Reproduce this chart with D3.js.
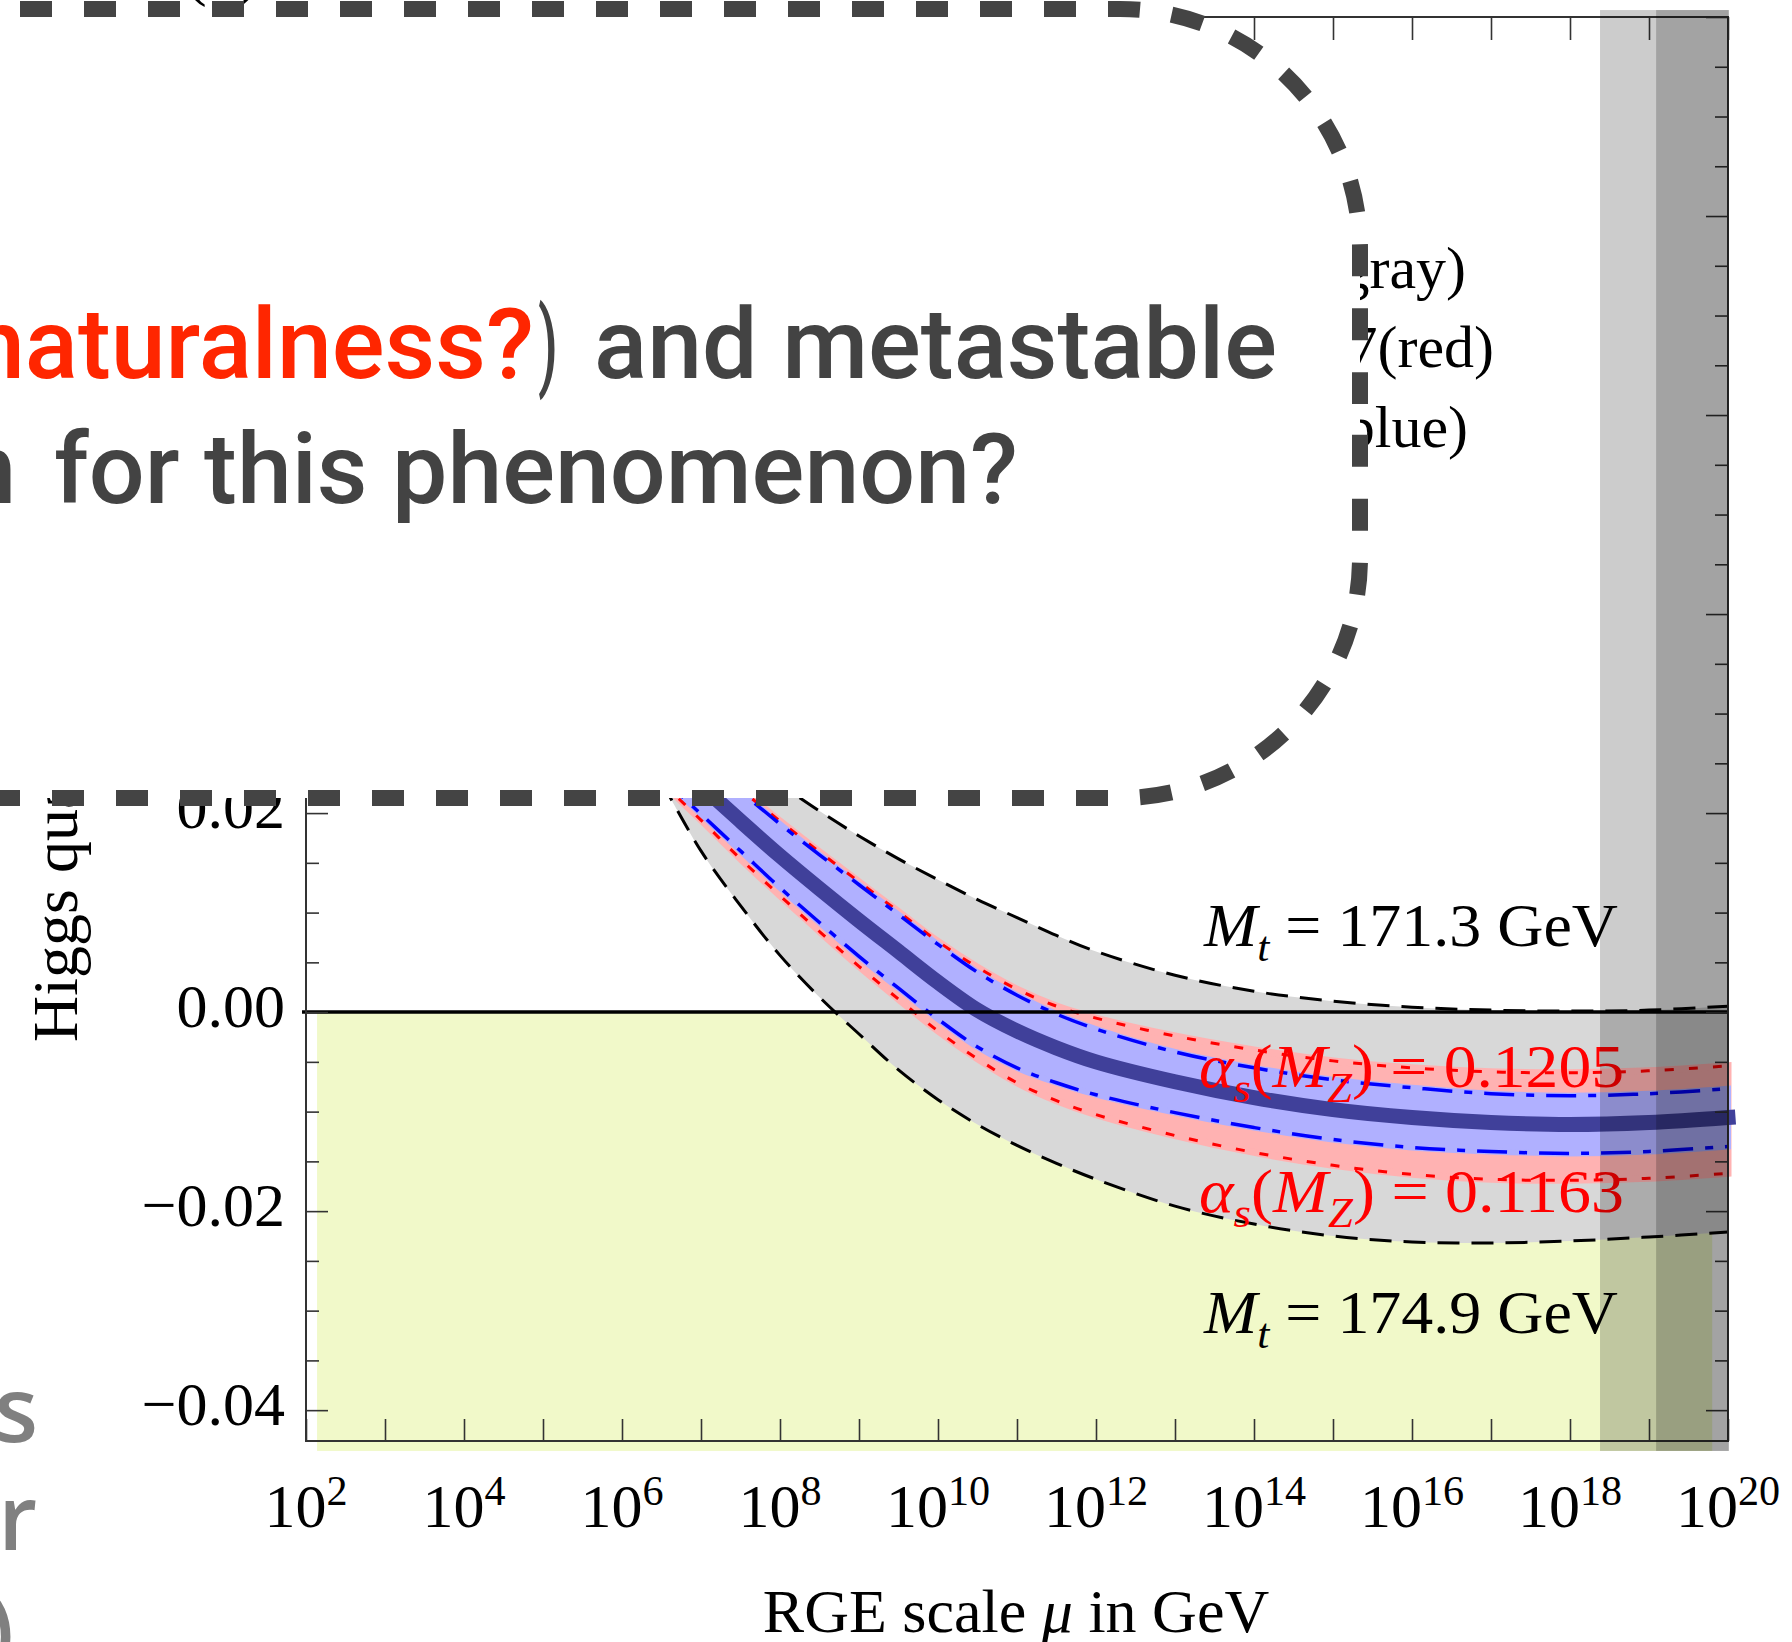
<!DOCTYPE html>
<html>
<head>
<meta charset="utf-8">
<script src="https://cdn.jsdelivr.net/npm/d3@7"></script>
<style>
  body { margin: 0; background: #fff; }
  svg { display: block; }
  text { white-space: pre; }
</style>
</head>
<body>
<script>
// RGE scale, as log10(mu / GeV)
var logMu = [6.5, 7, 7.5, 8, 8.5, 9, 9.5, 10, 10.5, 11, 11.5, 12, 13, 14, 15, 16, 17, 18, 19, 20];

// Higgs quartic coupling lambda(mu)
var central   = [0.0264, 0.0228, 0.0192, 0.0157, 0.0124, 0.0092, 0.0061, 0.0030, 0.0002, -0.0019, -0.0036, -0.0050, -0.0070, -0.0086, -0.0098, -0.0106, -0.0111, -0.0113, -0.0111, -0.0106];
var blueUpper = [0.0292, 0.0257, 0.0222, 0.0189, 0.0158, 0.0128, 0.0098, 0.0068, 0.0040, 0.0017, -0.0002, -0.0017, -0.0040, -0.0056, -0.0068, -0.0076, -0.0082, -0.0084, -0.0082, -0.0077];
var blueLower = [0.0236, 0.0199, 0.0162, 0.0125, 0.0090, 0.0056, 0.0024, -0.0007, -0.0035, -0.0056, -0.0071, -0.0083, -0.0101, -0.0116, -0.0128, -0.0136, -0.0140, -0.0142, -0.0140, -0.0135];
var redUpper  = [0.0293, 0.0258, 0.0224, 0.0192, 0.0161, 0.0131, 0.0101, 0.0071, 0.0045, 0.0023, 0.0006, -0.0006, -0.0024, -0.0038, -0.0049, -0.0056, -0.0060, -0.0061, -0.0059, -0.0054];
var redLower  = [0.0231, 0.0193, 0.0154, 0.0117, 0.0081, 0.0046, 0.0013, -0.0019, -0.0047, -0.0071, -0.0089, -0.0103, -0.0124, -0.0141, -0.0154, -0.0163, -0.0168, -0.0169, -0.0167, -0.0162];
var grayUpper = [0.0315, 0.0286, 0.0257, 0.0229, 0.0202, 0.0177, 0.0154, 0.0133, 0.0113, 0.0095, 0.0077, 0.0061, 0.0037, 0.0021, 0.0011, 0.0005, 0.0002, 0.0001, 0.0002, 0.0006];
var grayLower = [0.0232, 0.0162, 0.0107, 0.0057, 0.0015, -0.0022, -0.0058, -0.0088, -0.0113, -0.0134, -0.0152, -0.0168, -0.0195, -0.0213, -0.0225, -0.0231, -0.0232, -0.0230, -0.0226, -0.0221];

// axes
var xDecades = d3.range(2, 21);
var xLabelPowers = [2, 4, 6, 8, 10, 12, 14, 16, 18, 20];
var yTickSteps = d3.range(-8, 21);           // multiples of 0.005
var yLabels = [-0.04, -0.02, 0, 0.02];

// shaded regions (log10 mu ranges, lambda ranges)
var unstableRegion = [2.14, 19.8, -0.0441, 0];
var planckBands = [[18.38, 20.01], [19.09, 20.01]];
var bandsLambda = [-0.0441, 0.1007];

var svg = d3.select("body").append("svg")
    .attr("width", 1792)
    .attr("height", 1642);

var x = d3.scaleLog().domain([1e2, 1e20]).range([306, 1728]);
var y = d3.scaleLinear().domain([-0.0431, 0.1]).range([1441, 17]);
function X(l) { return x(Math.pow(10, l)); }

var serif = "'Liberation Serif', 'Times New Roman', serif";

function rich(text, parts, size) {
  var shift = 0;
  parts.forEach(function(p) {
    var target = p.sub ? size * 0.24 : p.sup ? -size * 0.36 : 0;
    var ts = text.append("tspan").text(p.t);
    if (target - shift !== 0) ts.attr("dy", target - shift);
    shift = target;
    if (p.it) ts.attr("font-style", "italic");
    if (p.sub || p.sup) ts.attr("font-size", size * 0.68);
  });
}

// unstable region (lambda < 0)
svg.append("rect")
    .attr("x", X(unstableRegion[0]))
    .attr("y", y(unstableRegion[3]))
    .attr("width", X(unstableRegion[1]) - X(unstableRegion[0]))
    .attr("height", y(unstableRegion[2]) - y(unstableRegion[3]))
    .style("fill", "#f1f9c9");

var smooth = d3.curveCatmullRom.alpha(0.5);

var line = d3.line()
    .x(function(d) { return X(d[0]); })
    .y(function(d) { return y(d[1]); })
    .curve(smooth);

var area = d3.area()
    .x(function(d) { return X(d[0]); })
    .y0(function(d) { return y(d[1]); })
    .y1(function(d) { return y(d[2]); })
    .curve(smooth);

function pts(vals) { return logMu.map(function(l, i) { return [l, vals[i]]; }); }
function band(lo, hi) { return logMu.map(function(l, i) { return [l, lo[i], hi[i]]; }); }

svg.append("path").attr("d", area(band(grayLower, grayUpper))).style("fill", "#d8d8d8");
svg.append("path").attr("d", area(band(redLower, redUpper)))
    .style("fill", "#ffb2b2").style("stroke", "#ffb2b2").style("stroke-width", 7);
svg.append("path").attr("d", area(band(blueLower, blueUpper)))
    .style("fill", "#b0b0ff").style("stroke", "#b0b0ff").style("stroke-width", 6);

[grayUpper, grayLower].forEach(function(v) {
  svg.append("path").attr("d", line(pts(v)))
      .style("fill", "none").style("stroke", "#000")
      .style("stroke-width", 3).style("stroke-dasharray", "22,12");
});
[redUpper, redLower].forEach(function(v) {
  svg.append("path").attr("d", line(pts(v)))
      .style("fill", "none").style("stroke", "#ff0000")
      .style("stroke-width", 3).style("stroke-dasharray", "9,15");
});
[blueUpper, blueLower].forEach(function(v) {
  svg.append("path").attr("d", line(pts(v)))
      .style("fill", "none").style("stroke", "#0000ff")
      .style("stroke-width", 3.5).style("stroke-dasharray", "30,12,8,12");
});
svg.append("path").attr("d", line(pts(central)))
    .style("fill", "none").style("stroke", "#40409a")
    .style("stroke-width", 15).style("stroke-linecap", "square");

// lambda = 0
svg.append("line")
    .attr("x1", 302).attr("x2", 1728)
    .attr("y1", y(0)).attr("y2", y(0))
    .style("stroke", "#000").style("stroke-width", 3.5);

// frame and ticks
svg.append("rect")
    .attr("x", 306).attr("y", 17).attr("width", 1422).attr("height", 1424)
    .style("fill", "none").style("stroke", "#333").style("stroke-width", 2);

var decadeVals = xDecades.map(function(p) { return Math.pow(10, p); });
function noDomain(g) { g.select(".domain").remove(); g.selectAll("line").attr("stroke-width", 1.6); }

svg.append("g").attr("color", "#333").attr("transform", "translate(0,1441)")
    .call(d3.axisBottom(x).tickValues(decadeVals).tickSize(-22).tickFormat(""))
    .call(noDomain);
svg.append("g").attr("color", "#333").attr("transform", "translate(0,17)")
    .call(d3.axisTop(x).tickValues(decadeVals).tickSize(-23).tickFormat(""))
    .call(noDomain);

var yMinor = yTickSteps.filter(function(k) { return k % 4 !== 0; }).map(function(k) { return k * 0.005; });
var yMajor = yTickSteps.filter(function(k) { return k % 4 === 0; }).map(function(k) { return k * 0.005; });

[[yMinor, 13], [yMajor, 22]].forEach(function(s) {
  svg.append("g").attr("color", "#333").attr("transform", "translate(306,0)")
      .call(d3.axisLeft(y).tickValues(s[0]).tickSize(-s[1]).tickFormat(""))
      .call(noDomain);
  svg.append("g").attr("color", "#333").attr("transform", "translate(1728,0)")
      .call(d3.axisRight(y).tickValues(s[0]).tickSize(-s[1]).tickFormat(""))
      .call(noDomain);
});

// y tick labels
var fmt = d3.format(".2f");
svg.append("g").selectAll("text")
    .data(yLabels)
    .enter().append("text")
    .attr("x", 285)
    .attr("y", function(d) { return y(d) + 15; })
    .attr("text-anchor", "end")
    .style("font-family", serif).style("font-size", "62px")
    .text(function(d) { return fmt(d); });

// x tick labels 10^n
xLabelPowers.forEach(function(p) {
  var t = svg.append("text")
      .attr("x", x(Math.pow(10, p)))
      .attr("y", 1527)
      .attr("text-anchor", "middle")
      .style("font-family", serif).style("font-size", "62px");
  rich(t, [{t: "10"}, {t: String(p), sup: true}], 62);
});

// axis titles
svg.append("text")
    .attr("x", 1016).attr("y", 1632)
    .attr("text-anchor", "middle")
    .style("font-family", serif).style("font-size", "62px")
    .call(function(t) { rich(t, [{t: "RGE scale "}, {t: "\u03bc", it: true}, {t: " in GeV"}], 62); });

svg.append("text")
    .attr("transform", "translate(77,1042) rotate(-90)")
    .style("font-family", serif).style("font-size", "64px")
    .text("Higgs quartic coupling \u03bb");

// labels on the curves
var curveLabels = [
  {x: 1204, y: 946,  w: 414, color: "#000", parts: [{t: "M", it: true}, {t: "t", it: true, sub: true}, {t: " = 171.3 GeV"}]},
  {x: 1199, y: 1087, w: 425, color: "#ff0000", parts: [{t: "\u03b1", it: true}, {t: "s", it: true, sub: true}, {t: "("}, {t: "M", it: true}, {t: "Z", it: true, sub: true}, {t: ") = 0.1205"}]},
  {x: 1199, y: 1212, w: 425, color: "#ff0000", parts: [{t: "\u03b1", it: true}, {t: "s", it: true, sub: true}, {t: "("}, {t: "M", it: true}, {t: "Z", it: true, sub: true}, {t: ") = 0.1163"}]},
  {x: 1204, y: 1333, w: 414, color: "#000", parts: [{t: "M", it: true}, {t: "t", it: true, sub: true}, {t: " = 174.9 GeV"}]}
];
curveLabels.forEach(function(c) {
  var t = svg.append("text")
      .attr("x", c.x).attr("y", c.y)
      .attr("textLength", c.w).attr("lengthAdjust", "spacingAndGlyphs")
      .style("font-family", serif).style("font-size", "62px")
      .style("fill", c.color);
  rich(t, c.parts, 62);
});

// legend: only the line ends show past the slide box
var legendTails = [
  {x: 1466, y: 288, text: "gray)"},
  {x: 1494, y: 367, text: "7(red)"},
  {x: 1468, y: 447, text: "blue)"}
];
legendTails.forEach(function(l) {
  svg.append("text")
      .attr("x", l.x).attr("y", l.y)
      .attr("text-anchor", "end")
      .style("font-family", serif).style("font-size", "60px")
      .text(l.text);
});

svg.append("text")
    .attr("x", 186).attr("y", -6)
    .style("font-family", serif).style("font-size", "62px")
    .text("(\u03bb)");

// Planck-scale bands
planckBands.forEach(function(b) {
  svg.append("rect")
      .attr("x", X(b[0]))
      .attr("y", y(bandsLambda[1]))
      .attr("width", X(b[1]) - X(b[0]))
      .attr("height", y(bandsLambda[0]) - y(bandsLambda[1]))
      .style("fill", "#000").style("fill-opacity", 0.2);
});

// slide box on top of the plot
var box = svg.append("g");
box.append("rect")
    .attr("x", -400).attr("y", 9).attr("width", 1760).attr("height", 789).attr("rx", 240)
    .style("fill", "#fff");
var boxEdges = [
  "M-12,798 L1120,798 A240,240 0 0 0 1360,558 L1360,404",
  "M20,9 L1120,9 A240,240 0 0 1 1360,249 L1360,404"
];
boxEdges.forEach(function(d) {
  box.append("path").attr("d", d)
      .style("fill", "none").style("stroke", "#444")
      .style("stroke-width", 16).style("stroke-dasharray", "32,32");
});

var sans = "Roboto, 'Noto Sans', 'DejaVu Sans', sans-serif";
var slideText = [
  {x: -30, y: 378, w: 564, color: "#ff2600", text: "naturalness?"},
  {x: 538, y: 378, w: 20,  color: "#434343", text: ")"},
  {x: 594, y: 378, w: 683, color: "#434343", text: "and metastable"},
  {x: -36, y: 503, w: 52,  color: "#434343", text: "n"},
  {x: 54,  y: 503, w: 964, color: "#434343", text: "for this phenomenon?"}
];
slideText.forEach(function(s) {
  box.append("text")
      .attr("x", s.x).attr("y", s.y)
      .attr("textLength", s.w).attr("lengthAdjust", "spacingAndGlyphs")
      .style("font-family", sans).style("font-size", "98px").style("font-weight", 500)
      .style("fill", s.color)
      .text(s.text);
});

// other slide text cut at the left edge
var sideText = [
  {x: 38, y: 1442, text: "s"},
  {x: 37, y: 1550, text: "r"},
  {x: 14, y: 1662, text: ")"}
];
sideText.forEach(function(s) {
  svg.append("text")
      .attr("x", s.x).attr("y", s.y)
      .attr("text-anchor", "end")
      .style("font-family", "'Open Sans', sans-serif").style("font-size", "90px").style("font-weight", 600)
      .style("fill", "#808080")
      .text(s.text);
});
</script>
</body>
</html>
